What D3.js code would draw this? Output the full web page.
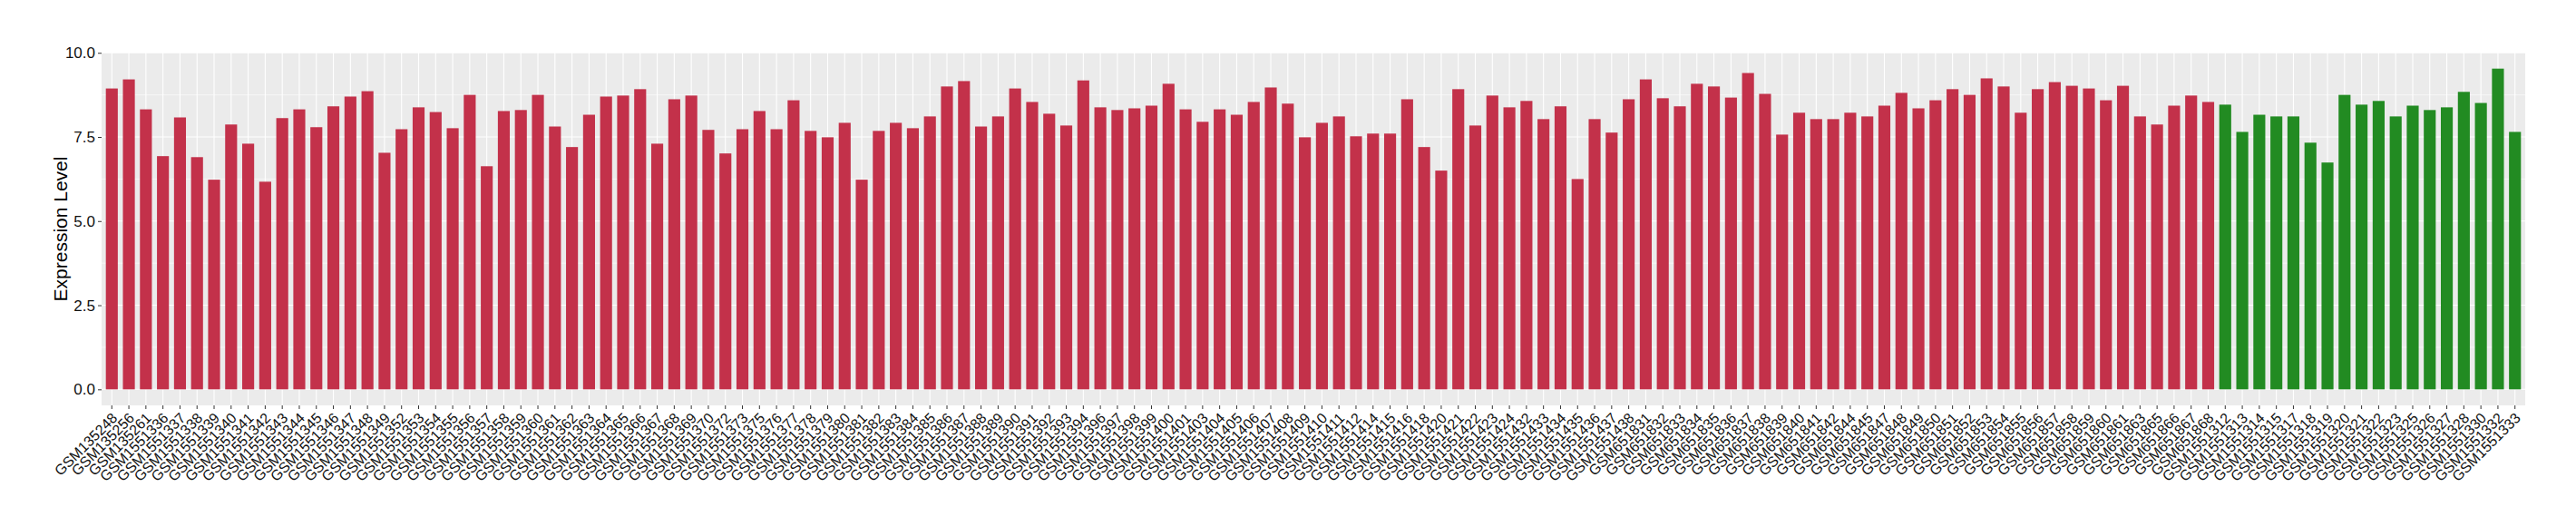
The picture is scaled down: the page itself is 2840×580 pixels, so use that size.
<!DOCTYPE html>
<html>
<head>
<meta charset="utf-8">
<script src="https://cdn.jsdelivr.net/npm/d3@7"></script>
<style>
    body { margin: 0; background: #fff; }
    text { font-family: "Liberation Sans", Arial, Helvetica, sans-serif; }
</style>
</head>
<body>
<div id="vis"></div>
<script>
// samples, first group (red)
var redSamples = ["GSM135248", "GSM135256", "GSM135261",
    "GSM1551336", "GSM1551337", "GSM1551338", "GSM1551339", "GSM1551340", "GSM1551341", "GSM1551342",
    "GSM1551343", "GSM1551344", "GSM1551345", "GSM1551346", "GSM1551347", "GSM1551348", "GSM1551349",
    "GSM1551352", "GSM1551353", "GSM1551354", "GSM1551355", "GSM1551356", "GSM1551357", "GSM1551358",
    "GSM1551359", "GSM1551360", "GSM1551361", "GSM1551362", "GSM1551363", "GSM1551364", "GSM1551365",
    "GSM1551366", "GSM1551367", "GSM1551368", "GSM1551369", "GSM1551370", "GSM1551372", "GSM1551373",
    "GSM1551375", "GSM1551376", "GSM1551377", "GSM1551378", "GSM1551379", "GSM1551380", "GSM1551381",
    "GSM1551382", "GSM1551383", "GSM1551384", "GSM1551385", "GSM1551386", "GSM1551387", "GSM1551388",
    "GSM1551389", "GSM1551390", "GSM1551391", "GSM1551392", "GSM1551393", "GSM1551394", "GSM1551396",
    "GSM1551397", "GSM1551398", "GSM1551399", "GSM1551400", "GSM1551401", "GSM1551403", "GSM1551404",
    "GSM1551405", "GSM1551406", "GSM1551407", "GSM1551408", "GSM1551409", "GSM1551410", "GSM1551411",
    "GSM1551412", "GSM1551414", "GSM1551415", "GSM1551416", "GSM1551418", "GSM1551420", "GSM1551421",
    "GSM1551422", "GSM1551423", "GSM1551424", "GSM1551432", "GSM1551433", "GSM1551434", "GSM1551435",
    "GSM1551436", "GSM1551437", "GSM1551438",
    "GSM651831", "GSM651832", "GSM651833", "GSM651834", "GSM651835", "GSM651836", "GSM651837",
    "GSM651838", "GSM651839", "GSM651840", "GSM651841", "GSM651842", "GSM651844", "GSM651845",
    "GSM651847", "GSM651848", "GSM651849", "GSM651850", "GSM651851", "GSM651852", "GSM651853",
    "GSM651854", "GSM651855", "GSM651856", "GSM651857", "GSM651858", "GSM651859", "GSM651860",
    "GSM651861", "GSM651863", "GSM651865", "GSM651866", "GSM651867", "GSM651868"];

var redValues = [8.94, 9.21, 8.32, 6.93, 8.08, 6.90, 6.23, 7.87, 7.30, 6.17,
    8.06, 8.32, 7.79, 8.41, 8.70, 8.86, 7.03, 7.73, 8.38, 8.24,
    7.76, 8.75, 6.63, 8.27, 8.30, 8.75, 7.81, 7.20, 8.16, 8.70,
    8.73, 8.92, 7.30, 8.62, 8.73, 7.71,
    7.01, 7.73, 8.27, 7.73, 8.59, 7.68, 7.49, 7.92, 6.23, 7.68,
    7.92, 7.76, 8.11, 9.00, 9.16, 7.81, 8.11, 8.94, 8.54, 8.19,
    7.84, 9.18, 8.38, 8.30, 8.35, 8.43, 9.08, 8.32, 7.95, 8.32,
    8.16, 8.54, 8.97, 8.49, 7.49, 7.92,
    8.11, 7.52, 7.60, 7.60, 8.62, 7.20, 6.50, 8.92, 7.84, 8.73,
    8.38, 8.57, 8.03, 8.41, 6.25, 8.03, 7.63, 8.62, 9.21, 8.65,
    8.41, 9.08, 9.00, 8.67, 9.40, 8.78, 7.57, 8.22, 8.03, 8.03,
    8.22, 8.11, 8.43, 8.81, 8.35, 8.59,
    8.92, 8.75, 9.24, 9.00, 8.22, 8.92, 9.13, 9.02, 8.94, 8.59,
    9.02, 8.11, 7.87, 8.43, 8.73, 8.54];

// samples, second group (green)
var greenSamples = ["GSM1551312", "GSM1551313", "GSM1551314", "GSM1551315", "GSM1551317", "GSM1551318",
    "GSM1551319", "GSM1551320", "GSM1551321", "GSM1551322", "GSM1551323", "GSM1551325",
    "GSM1551326", "GSM1551327", "GSM1551328", "GSM1551330", "GSM1551332", "GSM1551333"];

var greenValues = [8.46, 7.65, 8.16, 8.11, 8.11, 7.33, 6.74, 8.75, 8.46,
    8.57, 8.11, 8.43, 8.30, 8.38, 8.84, 8.51, 9.53, 7.65];

var yTicks = [0, 2.5, 5, 7.5, 10];
var yMinor = [1.25, 3.75, 6.25, 8.75];

var width = 2840,
    height = 580;
var margin = { top: 58, right: 56, bottom: 133, left: 112 };

var data = [];
redSamples.forEach(function (s, i) {
    data.push({ sample: s, value: redValues[i], group: "red" });
});
greenSamples.forEach(function (s, i) {
    data.push({ sample: s, value: greenValues[i], group: "green" });
});

var svg = d3.select("#vis")
    .append("svg")
    .attr("width", width)
    .attr("height", height);

var x = d3.scaleBand()
    .domain(data.map(function (d) { return d.sample; }))
    .range([margin.left, width - margin.right])
    .paddingInner(0.3)
    .paddingOuter(0.25);

// ggplot style 5% expansion
var maxV = d3.max(data, function (d) { return d.value; });
var y = d3.scaleLinear()
    .domain([-0.05 * maxV, maxV * 1.05])
    .range([height - margin.bottom, margin.top]);

// panel
svg.append("rect")
    .attr("x", margin.left)
    .attr("y", margin.top)
    .attr("width", width - margin.left - margin.right)
    .attr("height", height - margin.top - margin.bottom)
    .attr("fill", "#ebebeb");

svg.append("g").selectAll("line")
    .data(yMinor)
    .enter().append("line")
    .attr("x1", margin.left)
    .attr("x2", width - margin.right)
    .attr("y1", function (d) { return y(d); })
    .attr("y2", function (d) { return y(d); })
    .attr("stroke", "#fff")
    .attr("stroke-width", 0.6);

svg.append("g").selectAll("line")
    .data(yTicks)
    .enter().append("line")
    .attr("x1", margin.left)
    .attr("x2", width - margin.right)
    .attr("y1", function (d) { return y(d); })
    .attr("y2", function (d) { return y(d); })
    .attr("stroke", "#fff")
    .attr("stroke-width", 1.1);

svg.append("g").selectAll("line")
    .data(data)
    .enter().append("line")
    .attr("x1", function (d) { return x(d.sample) + x.bandwidth() / 2; })
    .attr("x2", function (d) { return x(d.sample) + x.bandwidth() / 2; })
    .attr("y1", margin.top)
    .attr("y2", height - margin.bottom)
    .attr("stroke", "#fff")
    .attr("stroke-width", 1.1);

// bars
svg.append("g").selectAll("rect")
    .data(data)
    .enter().append("rect")
    .attr("x", function (d) { return x(d.sample); })
    .attr("y", function (d) { return y(d.value); })
    .attr("width", x.bandwidth())
    .attr("height", function (d) { return y(0) - y(d.value); })
    .attr("fill", function (d) {
        if (d.group == "green") return "#228b22";
        return "#c3314a";
    });

// y axis
var yAxis = svg.append("g")
    .attr("transform", "translate(" + margin.left + ",0)")
    .call(d3.axisLeft(y).tickValues(yTicks).tickFormat(d3.format(".1f")).tickSize(4).tickPadding(3));
yAxis.select(".domain").remove();
yAxis.selectAll(".tick line").attr("stroke", "#333");
yAxis.selectAll("text")
    .attr("fill", "#111")
    .style("font-size", "17px");

// x axis
var xAxis = svg.append("g")
    .attr("transform", "translate(0," + (height - margin.bottom) + ")")
    .call(d3.axisBottom(x).tickSize(4).tickSizeOuter(0));
xAxis.select(".domain").remove();
xAxis.selectAll(".tick line").attr("stroke", "#333");
xAxis.selectAll("text")
    .attr("fill", "#111")
    .style("font-size", "16px")
    .attr("text-anchor", "end")
    .attr("dy", null)
    .attr("y", 0)
    .attr("transform", "translate(7,15) rotate(-45)");

svg.append("text")
    .attr("transform", "translate(74," + ((margin.top + height - margin.bottom) / 2) + ") rotate(-90)")
    .attr("text-anchor", "middle")
    .attr("fill", "#000")
    .style("font-size", "21px")
    .text("Expression Level");
</script>
</body>
</html>
